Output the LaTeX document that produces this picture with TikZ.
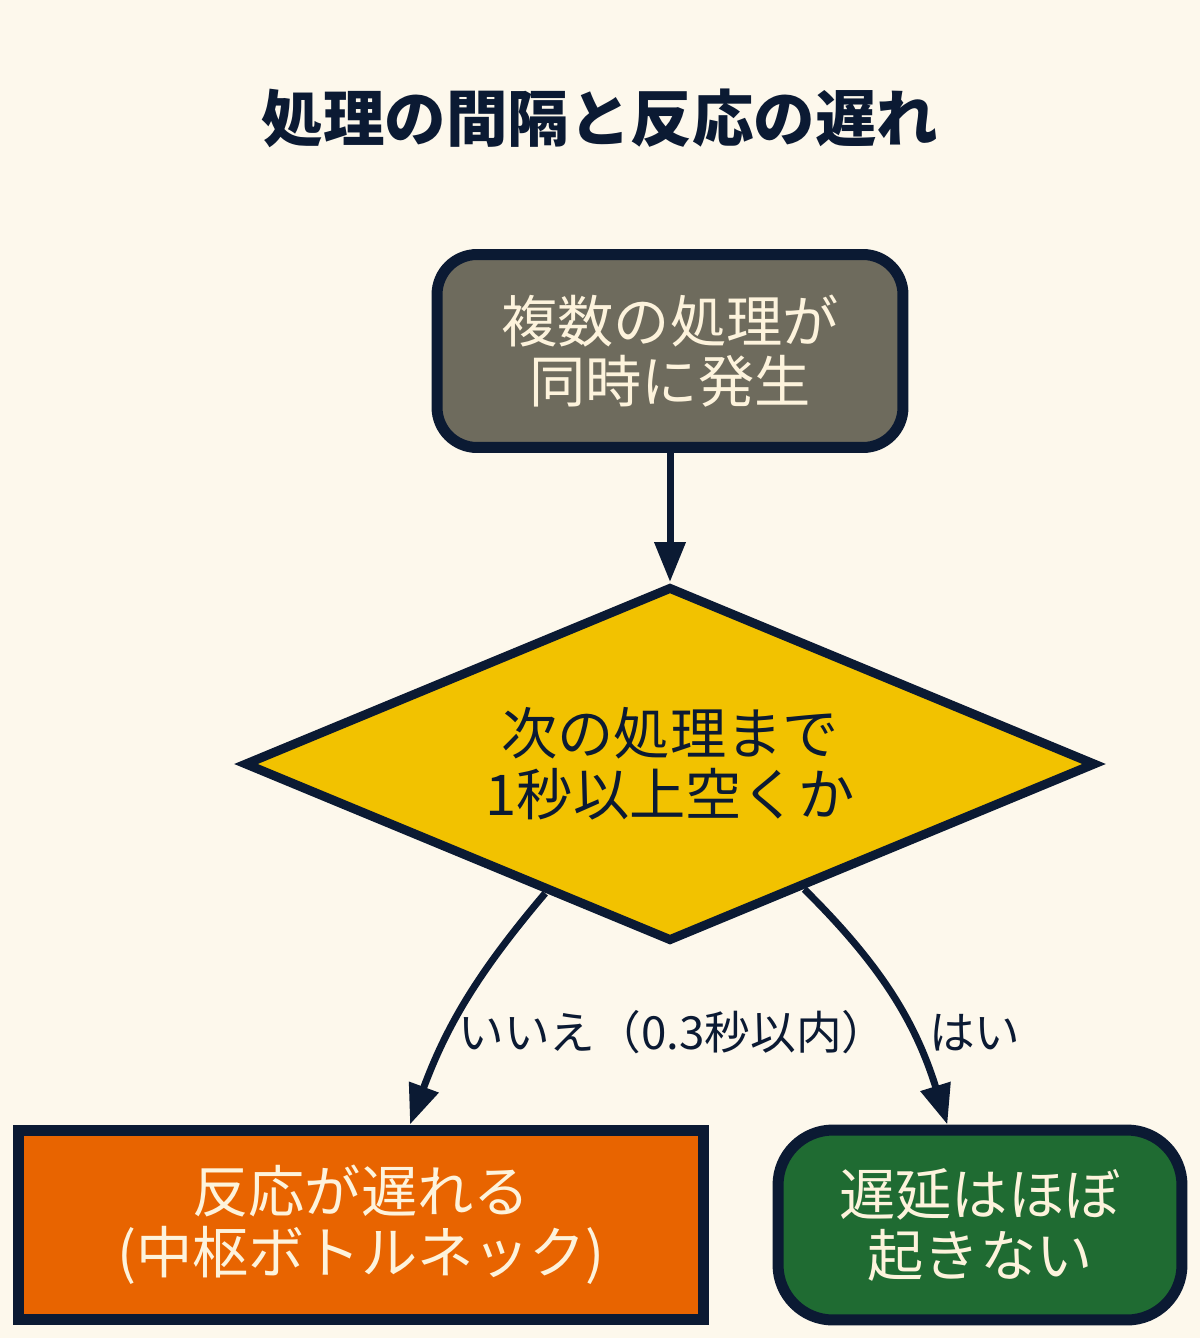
\documentclass[tikz,border=0pt]{standalone}
\usepackage{fontspec}
\setmainfont{Noto Sans CJK JP}
\usepackage{tikz}
\usetikzlibrary{calc, shapes.geometric, positioning, arrows.meta}
\definecolor{paper}{HTML}{FDF8EC}
\definecolor{navy}{HTML}{0B1A33}
\definecolor{stone}{HTML}{6E6B5D}
\definecolor{mustard}{HTML}{F2C200}
\definecolor{pumpkin}{HTML}{E86400}
\definecolor{forest}{HTML}{1F6B32}
\definecolor{cream}{HTML}{FDF3DC}
\newcommand\bodyfont{\fontsize{32}{34.5}\selectfont}

\begin{document}
\begin{tikzpicture}[x=0.02cm, y=0.02cm,
  box/.style={draw=navy, line width=0.22cm, align=center, inner sep=0pt, font=\bodyfont},
  decision/.style={box, shape=diamond, aspect=2.4, line width=0.18cm, fill=mustard, text=navy},
  flow/.style={draw=navy, line width=0.14cm, -{Triangle[length=0.8cm, width=0.6cm]}},
  lbl/.style={text=navy, font=\fontsize{26}{28}\selectfont}]
\fill[paper] (0,0) rectangle (1200,-1338);
\useasboundingbox (0,0) rectangle (1200,-1338);

% title
\node[text=navy, font=\fontsize{35}{40}\selectfont\bfseries] (ttl) at (600,-118) {処理の間隔と反応の遅れ};

% boxes
\node[box, rounded corners=0.8cm, fill=stone, text=cream, minimum width=9.32cm, minimum height=3.86cm] (occur) at (670,-351) {複数の処理が\\同時に発生};
\node[decision, minimum width=17.04cm, minimum height=7.1cm] (gap) at (670,-764) {次の処理まで\\1秒以上空くか};
\node[box, fill=pumpkin, text=cream, minimum width=13.72cm, minimum height=3.8cm] (slow) at (361,-1225) {反応が遅れる\\(中枢ボトルネック)};
\node[box, rounded corners=1.1cm, fill=forest, text=cream, minimum width=8.08cm, minimum height=3.8cm] (fine) at (980,-1225) {遅延はほぼ\\起きない};

% arrows
\draw[flow] (occur) -- (gap);
\draw[flow] (gap.-134) to[bend right=10] node[lbl, pos=0.64, anchor=west] (nolbl) {いいえ（0.3秒以内）} (slow.64);
\draw[flow] (gap.-43.5) to[bend left=14] node[lbl, pos=0.66, anchor=west, xshift=0.15cm] (yeslbl) {はい} (fine.108.6);

\end{tikzpicture}
\end{document}
